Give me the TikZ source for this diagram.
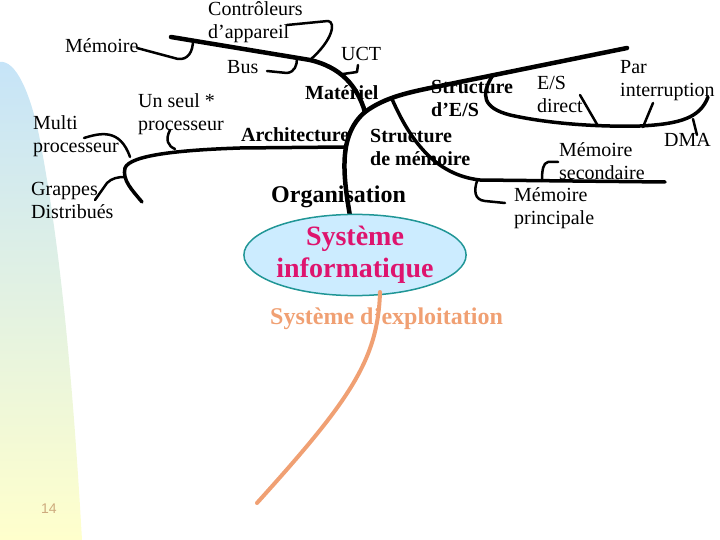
\documentclass[tikz,border=0pt]{standalone}
\usepackage{fontspec}
\setmainfont{Liberation Serif}
\newfontfamily\pagefont{Liberation Sans}
\usetikzlibrary{shapes.geometric}
\definecolor{paneltop}{RGB}{198,228,248}
\definecolor{panelbottom}{RGB}{255,255,204}
\definecolor{sifill}{RGB}{204,236,255}
\definecolor{sidraw}{RGB}{32,150,150}
\definecolor{sitext}{RGB}{222,20,110}
\definecolor{oscolor}{RGB}{240,160,115}
\definecolor{pagecolor}{RGB}{205,170,125}

\begin{document}
\begin{tikzpicture}[x=1bp,y=-1bp,line cap=round,line join=round]
    \tikzstyle{label}=[inner sep=0pt,anchor=base west,align=left,font=\fontsize{20bp}{23.5bp}\selectfont]
    \tikzstyle{bold label}=[label,font=\fontsize{20bp}{23.5bp}\selectfont\bfseries]
    \tikzstyle{bone}=[draw=black,line width=4.5bp]
    \tikzstyle{rib}=[draw=black,line width=3.5bp]
    \tikzstyle{tick}=[draw=black,line width=2.5bp]

    \useasboundingbox (0,0) rectangle (720,540);

    % Draw the coloured band on the left
    \shade[top color=paneltop,bottom color=panelbottom]
        (0,62) .. controls (15,60) and (30,90) .. (40,140)
        .. controls (55,220) and (70,330) .. (82,540) -- (0,540) -- cycle;
    \node[font=\pagefont\fontsize{14bp}{16bp}\selectfont,text=pagecolor] (page) at (49,509) {14};

    % Labels of the bones (base = last line)
    \node[label] (ctrl) at (208,39) {Contrôleurs\\d’appareil};
    \node[label] (mem) at (65,53) {Mémoire};
    \node[label] (bus) at (227,74) {Bus};
    \node[label] (uct) at (341,61) {UCT};
    \node[bold label] (hw) at (305,100) {Matériel};
    \node[bold label] (io) at (431,117) {Structure\\d’E/S};
    \node[label] (uni) at (138,131) {Un seul *\\processeur};
    \node[label] (multi) at (33,153) {Multi\\processeur};
    \node[bold label] (arch) at (241,142) {Architecture};
    \node[bold label] (memstruct) at (370,166) {Structure\\de mémoire};
    \node[label] (clust) at (31,219) {Grappes\\Distribués};
    \node[bold label,font=\fontsize{24bp}{28bp}\selectfont\bfseries] (orga) at (271,203) {Organisation};
    \node[bold label,font=\fontsize{24bp}{28bp}\selectfont\bfseries,text=oscolor] (os) at (270,324) {Système d’exploitation};
    \node[label] (dio) at (537,113) {E/S\\direct};
    \node[label] (irq) at (620,97) {Par\\interruption};
    \node[label] (dma) at (664,147) {DMA};
    \node[label] (sec) at (559,180) {Mémoire\\secondaire};
    \node[label] (prim) at (514,225) {Mémoire\\principale};

    % Junctions on the bones
    \coordinate (org) at (350,216);
    \coordinate (join) at (365,112);
    \coordinate (io-end) at (627,48);
    \coordinate (hw-start) at (171,37);
    \coordinate (ctrl-j) at (310,60);
    \coordinate (arch-j) at (344,147);
    \coordinate (arch-end) at (142,202);
    \coordinate (mem-j) at (392,99);
    \coordinate (io-j) at (493,75);

    % Main bone and its ribs
    \draw[bone] (org) .. controls (343,175) and (338,135) .. (join)
        .. controls (385,97) and (410,92) .. (440,86) -- (io-end);
    \draw[bone] (hw-start) -- (ctrl-j) .. controls (340,67) and (357,85) .. (join);
    \draw[rib] (arch-j) -- (240,148) .. controls (180,150) and (130,155) .. (125,168)
        .. controls (122,180) and (132,190) .. (arch-end);
    \draw[rib] (mem-j) .. controls (410,140) and (435,175) .. (480,180) -- (665,182);
    \draw[rib] (io-j) .. controls (480,95) and (483,108) .. (510,115)
        .. controls (550,124) and (600,127) .. (640,126)
        .. controls (680,124) and (700,118) .. (708,97);

    % Small ticks towards the labels
    \draw[tick] (137,48) -- (178,59) .. controls (188,60) and (193,52) .. (193,40);
    \draw[tick] (287,25) -- (328,21) .. controls (336,22) and (333,40) .. (ctrl-j);
    \draw[tick] (267,71) -- (287,73) .. controls (295,72) and (297,65) .. (297,58);
    \draw[tick] (343,74) -- (357,72) -- (358,65);
    \draw[tick] (170,130) .. controls (165,140) and (168,146) .. (175,149);
    \draw[tick] (84,138) .. controls (100,133) and (120,128) .. (130,157);
    \draw[tick] (95,200) -- (107,183) .. controls (112,178) and (118,177) .. (125,177);
    \draw[tick] (558,162) -- (548,162) .. controls (543,163) and (542,170) .. (542,181);
    \draw[tick] (477,181) .. controls (474,190) and (474,200) .. (485,201) -- (505,203);
    \foreach \xa/\ya/\xb/\yb in {580/95/598/126, 653/103/643/127, 693/119/697/135}
        \draw[tick] (\xa,\ya) -- (\xb,\yb);

    % Draw the centre node
    \node[ellipse,draw=sidraw,fill=sifill,line width=1.5bp,minimum width=200bp,
          minimum height=78bp,inner sep=0pt,text=sitext,align=center,
          font=\fontsize{28bp}{32bp}\selectfont\bfseries] (si) at (355,255) {Système\\informatique};

    % Operating system branch
    \draw[line width=4bp,draw=oscolor] (380,292) .. controls (378,360) and (350,400) .. (257,503);
\end{tikzpicture}
\end{document}
